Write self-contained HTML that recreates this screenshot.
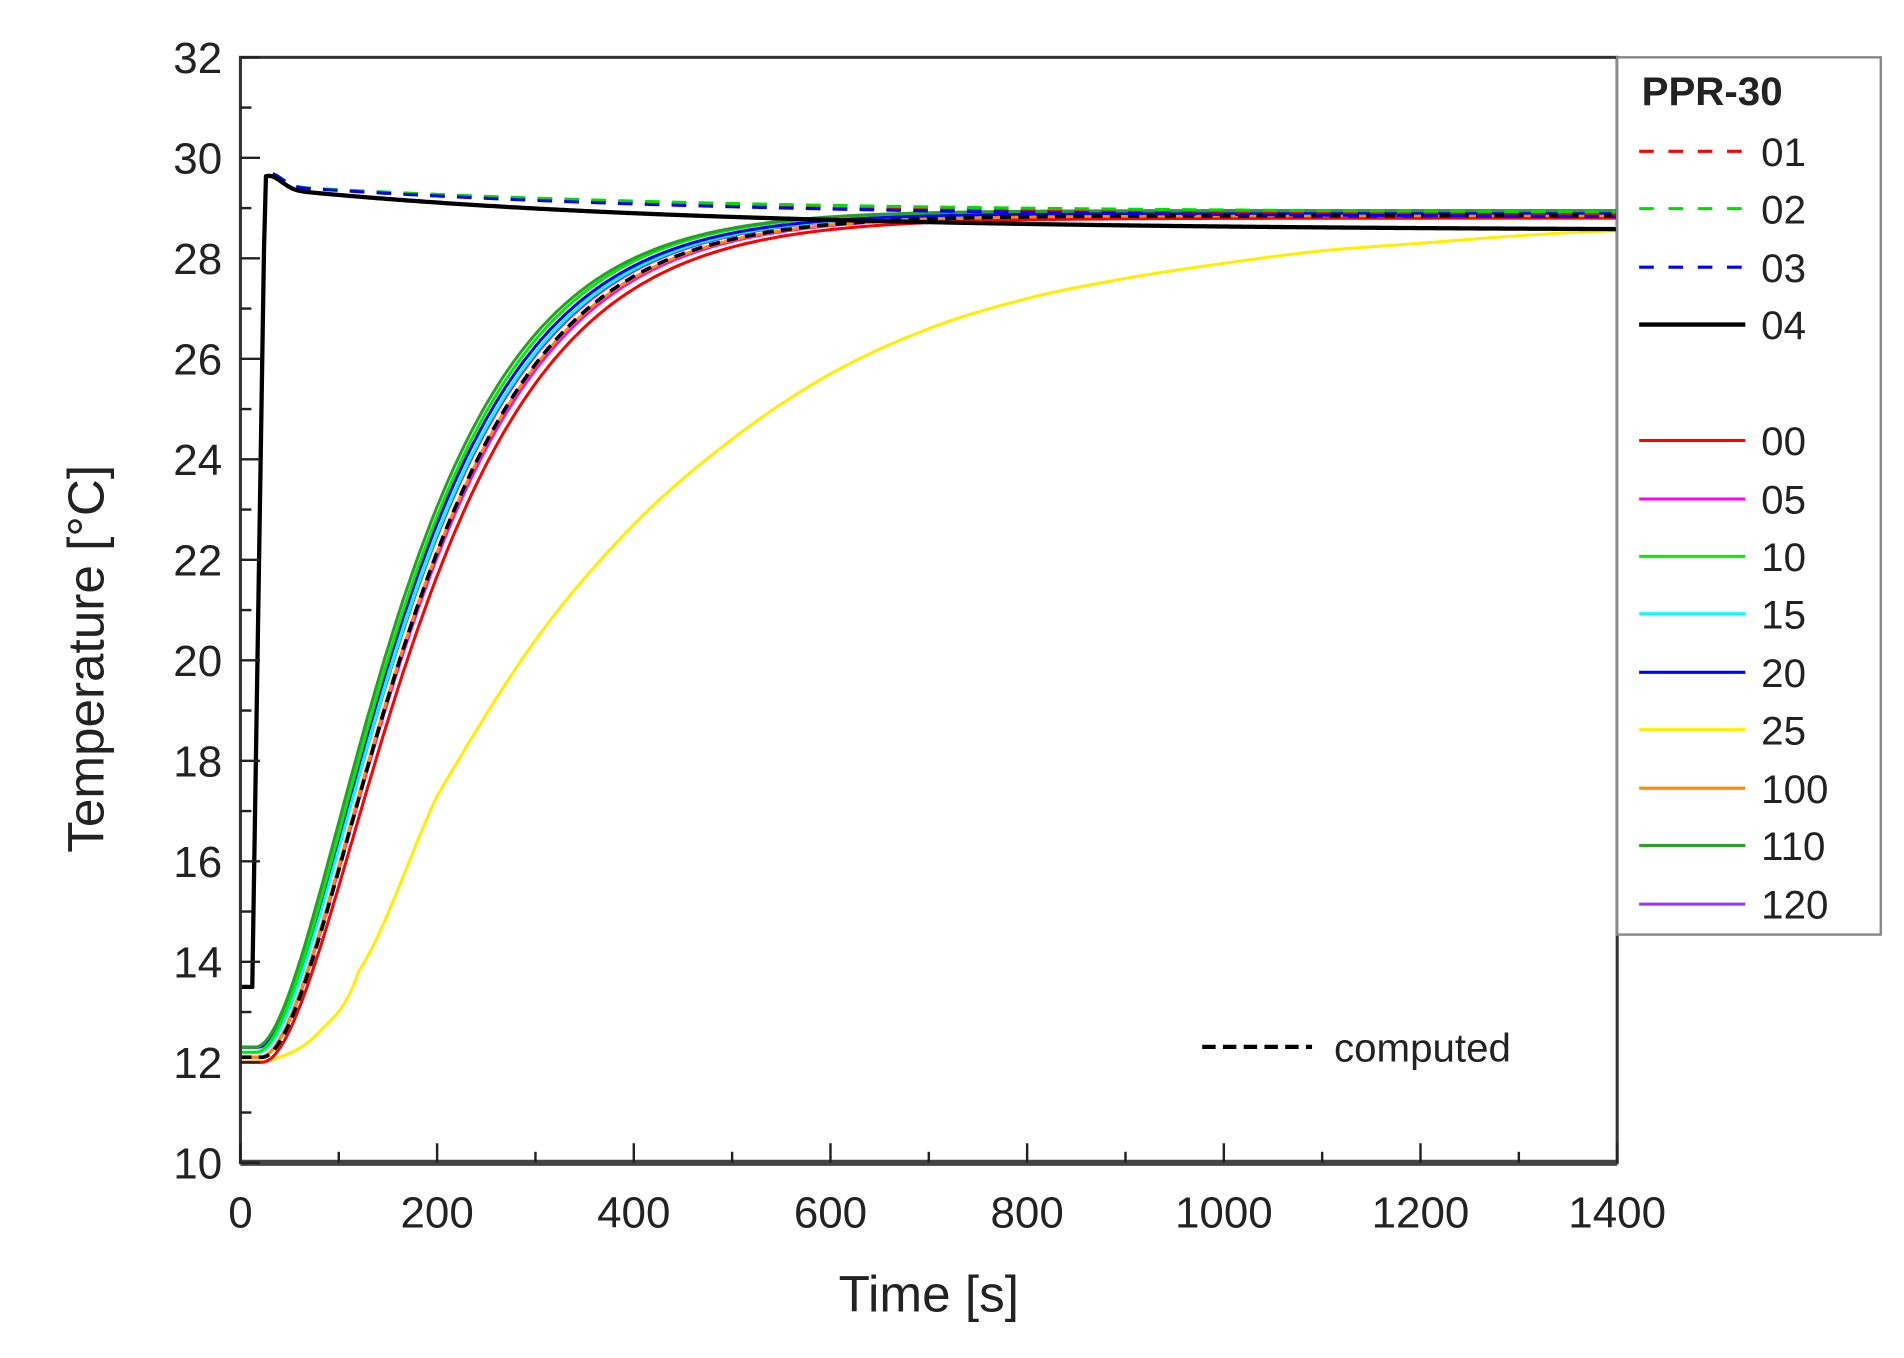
<!DOCTYPE html>
<html><head><meta charset="utf-8"><style>html,body{margin:0;padding:0;background:#fff}svg{display:block}</style></head>
<body>
<svg id="s" width="1904" height="1358" viewBox="0 0 1560 1113" preserveAspectRatio="none" xmlns="http://www.w3.org/2000/svg" font-family="Liberation Sans, Arial, sans-serif">
<rect width="1560" height="1113" fill="#fff"/>
<g id="curves" fill="none" stroke-linejoin="round"></g>
<rect x="197" y="47" width="1128" height="906" fill="none" stroke="#333" stroke-width="2.5"/>
<line x1="197" y1="953" x2="1325" y2="953" stroke="#444" stroke-width="5"/>
<g id="ticks" stroke="#222" stroke-width="2"></g>
<g id="labels" font-size="36" fill="#222"></g>
<text x="761" y="1075" font-size="42" text-anchor="middle" fill="#222">Time [s]</text>
<text transform="translate(85,540) rotate(-90)" font-size="42" text-anchor="middle" fill="#222">Temperature  [°C]</text>
<rect x="1325" y="47" width="216" height="719" fill="#fff" stroke="#888" stroke-width="2"/>
<g id="legend" font-size="33" fill="#222"></g>
<line x1="985" y1="858" x2="1075" y2="858" stroke="#000" stroke-width="3.5" stroke-dasharray="11,6"/>
<text x="1093" y="870" font-size="33" fill="#222">computed</text>
</svg>
<script>
(function(){
var NS="http://www.w3.org/2000/svg";
function X(t){return 197+t*1128/1400}
function Y(T){return 953-(T-10)*906/22}
function el(p,n,a,txt){var e=document.createElementNS(NS,n);for(var k in a)e.setAttribute(k,a[k]);if(txt!=null)e.textContent=txt;document.getElementById(p).appendChild(e);return e}
var t,T,big;
for(t=0;t<=1400;t+=100){big=t%200==0;el("ticks","line",{x1:X(t),y1:953,x2:X(t),y2:953-(big?16:9)});}
for(T=10;T<=32;T+=1){big=T%2==0;el("ticks","line",{x1:197,y1:Y(T),x2:197+(big?16:9),y2:Y(T)});}
for(t=0;t<=1400;t+=200)el("labels","text",{x:X(t),y:1006,"text-anchor":"middle"},String(t));
for(T=10;T<=32;T+=2)el("labels","text",{x:182,y:Y(T)+13,"text-anchor":"end"},String(T));
function path(f,col,w,dash,t0,t1){var d="";for(var u=t0;u<=t1;u+=2){d+=(d?"L":"M")+X(u).toFixed(1)+","+Y(f(u)).toFixed(2)}var a={d:d,stroke:col,"stroke-width":w};if(dash)a["stroke-dasharray"]=dash;el("curves","path",a)}
function rise(T0,Tinf,td,tau){return function(u){var s=Math.max(0,u-td)/tau;return T0+(Tinf-T0)*(1-(1+s)*Math.exp(-s))}}
var yp=[[0,12],[40,12.1],[80,12.6],[120,13.8],[200,17.3],[300,20.4],[400,22.7],[500,24.4],[600,25.7],[700,26.6],[800,27.2],[900,27.6],[1000,27.9],[1100,28.15],[1200,28.3],[1300,28.45],[1400,28.55]];
function interp(p){return function(u){var n=p.length;for(var i=1;i<n;i++)if(u<=p[i][0]){var a=p[i-1],b=p[i],a0=p[Math.max(0,i-2)],b1=p[Math.min(n-1,i+1)];var s=(u-a[0])/(b[0]-a[0]);var m1=(b[1]-a0[1])/2,m2=(b1[1]-a[1])/2;var s2=s*s,s3=s2*s;return (2*s3-3*s2+1)*a[1]+(s3-2*s2+s)*m1+(-2*s3+3*s2)*b[1]+(s3-s2)*m2}return p[n-1][1]}}
path(interp(yp),"#ffee00",2.5,null,0,1400);
var S=[["#ff0000",12.0,28.8,22,92],["#ff00ff",12.1,28.85,20,90],["#ff8800",12.1,28.85,20,89],["#9933ff",12.3,28.9,18,88],["#00ffff",12.2,28.9,18,87],["#0000ff",12.3,28.9,17,86],["#00ee00",12.2,28.95,16,85],["#2a9d2a",12.3,28.95,15,84]];
S.forEach(function(s){path(rise(s[1],s[2],s[3],s[4]),s[0],2.5,null,0,1400)});
path(rise(12.1,28.85,22,88),"#000",3,"9,6",0,1400);
function plateau(off,end,tau){return function(u){if(u<12)return 13.5;if(u<25)return 13.5+(29.4+off-13.5)*(u-12)/13;var b=end+(29.4+off-end)*Math.exp(-(u-25)/tau);return b+0.25*Math.exp(-(u-30)*(u-30)/300)}}
path(plateau(0.05,28.85,450),"#ff0000",2.5,"12,10",0,1400);
path(plateau(0.05,28.9,450),"#00dd00",2.5,"12,10",0,1400);
path(plateau(0.05,28.8,450),"#0000ff",2.5,"12,10",0,1400);
path(plateau(0,28.55,420),"#000",3.5,null,0,1400);
el("legend","text",{x:1345,y:86,"font-weight":"bold"},"PPR-30");
var L=[[124,"01","#ff0000","12,12"],[171,"02","#00dd00","12,12"],[219,"03","#0000ff","12,12"],[266,"04","#000",null],[361,"00","#ff0000",null],[409,"05","#ff00ff",null],[456,"10","#00ee00",null],[503,"15","#00ffff",null],[551,"20","#0000ff",null],[598,"25","#ffee00",null],[646,"100","#ff8800",null],[693,"110","#2a9d2a",null],[741,"120","#9933ff",null]];
L.forEach(function(l){var a={x1:1343,y1:l[0],x2:1430,y2:l[0],stroke:l[2],"stroke-width":l[1]=="04"?3.5:2.5};if(l[3])a["stroke-dasharray"]=l[3];el("legend","line",a);el("legend","text",{x:1443,y:l[0]+12},l[1])});
})();
</script>
</body></html>
